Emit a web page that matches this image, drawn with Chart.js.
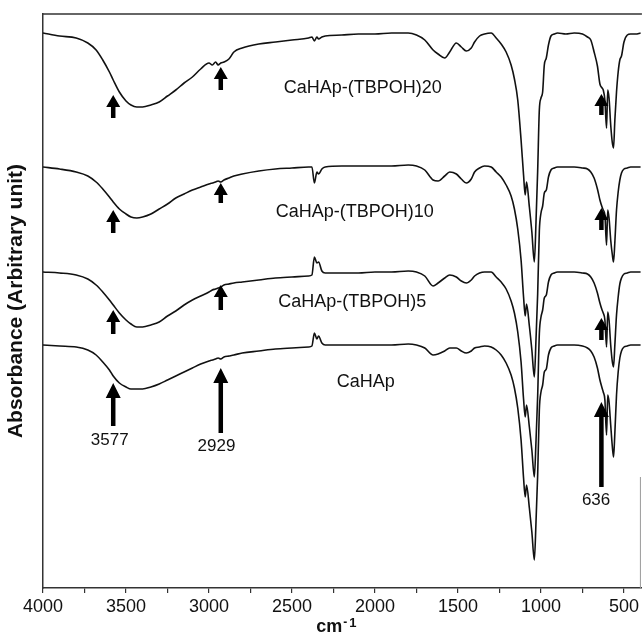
<!DOCTYPE html>
<html><head><meta charset="utf-8">
<style>html,body{margin:0;padding:0;background:#fff}#wrap{width:642px;height:633px;position:relative}</style>
<script src="https://cdn.jsdelivr.net/npm/chart.js@4.4.1/dist/chart.umd.min.js"></script>
</head><body><div id="wrap"><canvas id="c" width="642" height="633"></canvas></div>
<script>
// ---- data (wavenumber in cm-1, absorbance in arbitrary offset units) ----
const wavenumbers = [4000,3900,3800,3730,3680,3640,3600,3577,3540,3500,3470,3435,3400,3350,3300,3250,3200,3150,3100,3050,3000,2980,2960,2945,2929,2910,2880,2850,2800,2700,2600,2500,2400,2380,2365,2350,2340,2320,2300,2200,2100,2000,1900,1800,1750,1700,1650,1620,1580,1550,1510,1480,1450,1420,1400,1370,1340,1300,1270,1240,1210,1180,1160,1140,1120,1105,1095,1087,1070,1055,1040,1030,1020,1010,1000,990,980,968,955,940,920,900,850,800,750,720,700,680,660,645,632,625,615,605,598,590,580,570,563,555,545,535,525,515,500,480,460,430,400];

const seriesNames = ['CaHAp-(TBPOH)20','CaHAp-(TBPOH)10','CaHAp-(TBPOH)5','CaHAp'];

const tbpoh20 = [555,552,550,545,538,528,516,508,496,487,
483,481,481,483,486,492,498,505,511,519,
525,523,526,523,525,526,529,536,540,544,
546,548,550,551,547,551,549,551,552,553,
554,554,555,555,553,548,538,534,530,536,
545,541,537,540,546,552,554,555,550,544,
536,523,509,488,448,413,393,406,381,356,
326,366,417,478,490,496,523,530,543,552,
554,555,554,555,554,551,548,536,522,504,
500,498,488,460,498,490,463,445,440,468,
496,516,528,532,546,553,554,554,555];

const tbpoh10 = [421,419,416,412,406,399,391,386,379,374,
371,370,371,374,379,384,390,394,398,401,
404,405,406,407,406,408,410,412,414,417,
419,420,421,421,405,416,414,419,421,422,
422,422,422,423,422,418,408,407,412,416,
414,409,405,409,416,420,422,421,416,411,
403,392,379,359,328,291,272,284,262,238,
211,249,294,357,375,382,395,398,411,418,
420,421,421,421,420,419,416,410,399,388,
381,378,373,343,378,370,348,333,326,346,
378,396,408,415,419,420,421,421,421];

const tbpoh5 = [316,315,313,309,303,296,288,283,275,268,
264,261,261,263,266,272,277,283,288,292,
296,298,299,300,301,303,304,305,306,308,
310,311,312,313,331,325,326,317,315,315,
315,316,316,317,316,312,302,305,310,313,
311,307,305,308,312,315,316,316,311,306,
299,287,275,256,226,189,171,183,161,138,
111,147,192,254,271,278,290,293,306,313,
315,316,316,316,315,314,311,305,295,285,
278,275,268,241,276,268,243,226,221,243,
273,291,304,310,314,315,316,316,316];

const caHAp = [243,242,241,238,233,226,218,212,205,201,
199,199,199,201,204,208,212,216,220,224,
227,228,229,230,229,231,232,233,235,237,
239,240,241,242,255,249,252,245,243,243,
243,243,243,244,243,240,233,234,237,240,
240,237,235,237,240,241,242,241,238,233,
225,213,200,180,148,110,91,103,80,56,
28,66,113,178,196,203,216,219,233,240,
242,243,243,243,242,240,237,231,220,208,
200,196,188,153,193,186,163,141,131,155,
193,216,230,237,241,242,243,243,243];

const xTickValues = [4000,3750,3500,3250,3000,2750,2500,2250,2000,1750,1500,1250,1000,750,500];
const peakWavenumbers = [3577, 2929, 636];
const peakLabels = ['3577', '2929', '636'];

// ---- annotation placement (data units) ----
const seriesLabelAt = [[2074,500],[2122,376],[2137,286],[2056,206]];
const arrowTips = [[493,521,494],[378,405,380],[278,303,270],[205,220,186]];
const arrowTails = [[470,498,473],[355,385,358],[254,278,248],[162,155,101]];
const peakLabelAt = [[3598,148],[2955,142],[668,88]];

const FONT = "'Liberation Sans', Arial, sans-serif";
const allSeries = [tbpoh20, tbpoh10, tbpoh5, caHAp];

const datasets = allSeries.map((vals, i) => ({
  label: seriesNames[i],
  data: wavenumbers.map((w, k) => ({x: w, y: vals[k]})),
  borderColor: '#111',
  borderWidth: 1.6,
  pointRadius: 0,
  fill: false,
  cubicInterpolationMode: 'monotone'
}));

function drawArrow(ctx, x, yTip, yTail, headW, headH, shaftW) {
  ctx.beginPath();
  ctx.moveTo(x, yTip);
  ctx.lineTo(x + headW / 2, yTip + headH);
  ctx.lineTo(x + shaftW / 2, yTip + headH);
  ctx.lineTo(x + shaftW / 2, yTail);
  ctx.lineTo(x - shaftW / 2, yTail);
  ctx.lineTo(x - shaftW / 2, yTip + headH);
  ctx.lineTo(x - headW / 2, yTip + headH);
  ctx.closePath();
  ctx.fill();
}

const overlay = {
  id: 'overlay',
  afterDraw(chart) {
    const {ctx, chartArea: a, scales: {x, y}} = chart;
    ctx.save();
    ctx.strokeStyle = '#333';
    ctx.lineWidth = 1.5;
    ctx.beginPath(); ctx.moveTo(a.left - 1, a.top); ctx.lineTo(a.right, a.top); ctx.stroke();
    ctx.strokeStyle = '#999'; ctx.lineWidth = 1;
    ctx.beginPath(); ctx.moveTo(a.right - 1.5, y.getPixelForValue(111)); ctx.lineTo(a.right - 1.5, a.bottom); ctx.stroke();

    // arrows
    ctx.fillStyle = '#000';
    for (let s = 0; s < 4; s++) {
      for (let p = 0; p < peakWavenumbers.length; p++) {
        const px = x.getPixelForValue(peakWavenumbers[p]);
        const yt = y.getPixelForValue(arrowTips[s][p]);
        const yb = y.getPixelForValue(arrowTails[s][p]);
        const long = s === 3;
        drawArrow(ctx, px, yt, yb, long ? 15 : 14, long ? 15 : 12, 4.5);
      }
    }
    // series labels
    ctx.fillStyle = '#111';
    ctx.font = '18px ' + FONT;
    ctx.textAlign = 'center';
    ctx.textBaseline = 'middle';
    seriesNames.forEach((n, i) => {
      ctx.fillText(n, x.getPixelForValue(seriesLabelAt[i][0]), y.getPixelForValue(seriesLabelAt[i][1]));
    });
    // peak labels
    ctx.font = '17px ' + FONT;
    peakLabels.forEach((t, i) => {
      ctx.fillText(t, x.getPixelForValue(peakLabelAt[i][0]), y.getPixelForValue(peakLabelAt[i][1]));
    });
    // x axis title cm-1
    ctx.textBaseline = 'alphabetic';
    ctx.textAlign = 'left';
    ctx.font = 'bold 18px ' + FONT;
    const wcm = ctx.measureText('cm').width;
    ctx.font = 'bold 12px ' + FONT;
    const wd = ctx.measureText('-').width;
    const w1 = ctx.measureText('1').width;
    const total = wcm + 1 + wd + 2 + w1;
    let sx = 336 - total / 2;
    ctx.font = 'bold 18px ' + FONT;
    ctx.fillText('cm', sx, 632);
    ctx.font = 'bold 12px ' + FONT;
    ctx.fillText('-', sx + wcm + 1, 626);
    ctx.font = 'bold 13px ' + FONT;
    ctx.fillText('1', sx + wcm + 1 + wd + 2, 627);
    ctx.restore();
  }
};

new Chart(document.getElementById('c'), {
  type: 'line',
  data: {datasets},
  options: {
    responsive: false,
    animation: false,
    devicePixelRatio: 1,
    layout: {padding: {top: 14, left: 0, right: 0, bottom: 0}},
    plugins: {legend: {display: false}, tooltip: {enabled: false}},
    scales: {
      x: {
        type: 'linear',
        reverse: true,
        min: 392,
        max: 4000,
        afterBuildTicks: s => { s.ticks = xTickValues.map(v => ({value: v})); },
        afterFit: s => { s.height = 45; },
        ticks: {
          autoSkip: false, maxRotation: 0, padding: 3,
          color: '#111',
          font: {size: 18, family: FONT},
          callback: v => (v % 500 === 0 ? String(v) : '')
        },
        grid: {display: true, drawOnChartArea: false, drawTicks: true, tickLength: 5, color: '#333', lineWidth: 1.2},
        border: {display: true, color: '#333', width: 1.5}
      },
      y: {
        type: 'linear',
        min: 0,
        max: 574,
        afterFit: s => { s.width = 43; },
        ticks: {display: false},
        grid: {display: true, drawOnChartArea: false, drawTicks: false},
        border: {display: true, color: '#333', width: 1.5},
        title: {
          display: true,
          text: 'Absorbance (Arbitrary unit)',
          color: '#111',
          font: {size: 21, weight: 'bold', family: FONT},
          padding: {top: 4, bottom: 0}
        }
      }
    }
  },
  plugins: [overlay]
});
</script>
</body></html>
